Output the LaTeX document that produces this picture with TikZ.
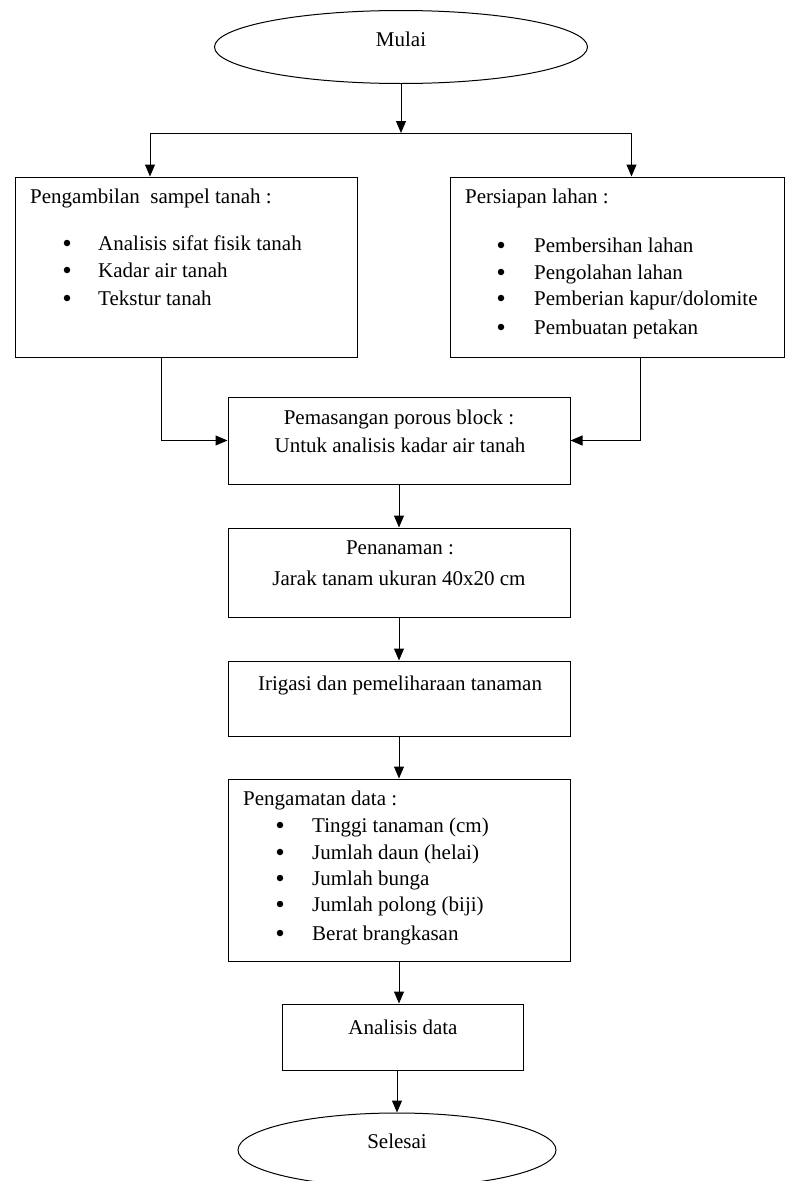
\documentclass[tikz,border=0pt]{standalone}
\usepackage{fontspec}
\setmainfont{Liberation Serif}
\usetikzlibrary{shapes.geometric}
\usetikzlibrary{arrows.meta}
\usetikzlibrary{positioning}

\begin{document}
\begin{tikzpicture}[x=1pt,y=-1pt,
  box/.style={draw,line width=1pt,rectangle,inner sep=0pt},
  oval/.style={draw,line width=1pt,ellipse,inner sep=0pt},
  txt/.style={font=\fontsize{21}{25}\selectfont,inner sep=0pt},
  dot/.style={circle,fill,inner sep=0pt,minimum size=6.5pt},
  arr/.style={line width=1pt,-{Triangle[length=12pt,width=10pt]}}]
\useasboundingbox (0,0) rectangle (786,1181);

\node[oval,minimum width=373pt,minimum height=73pt] (mulai) at (401,47) {};
\node[txt,anchor=base] (mulaitxt) at (401,46) {Mulai};
\coordinate (cabang) at (401,133);

\node[box,minimum width=342pt,minimum height=180pt] (ambil) at (186,267) {};
\node[box,minimum width=334pt,minimum height=180pt] (siap) at (617.5,267) {};
\node[box,minimum width=342pt,minimum height=87pt] (pasang) at (399,440.5) {};
\node[box,minimum width=342pt,minimum height=89pt] (tanam) at (399,572.5) {};
\node[box,minimum width=342pt,minimum height=75pt] (irigasi) at (399,698.5) {};
\node[box,minimum width=342pt,minimum height=182pt] (amati) at (399,870) {};
\node[box,minimum width=241pt,minimum height=66pt] (analisis) at (402.5,1037) {};
\node[oval,minimum width=318pt,minimum height=74pt] (selesai) at (397,1150) {};

\node[txt,anchor=base west] (ambilhead) at (30,203) {Pengambilan\ \ sampel tanah :};
\node[dot] (ambilb1) at (67,243) {};
\node[dot] (ambilb2) at (67,270) {};
\node[dot] (ambilb3) at (67,298) {};
\node[txt,anchor=base west] (ambil1) at (98,250) {Analisis sifat fisik tanah};
\node[txt,anchor=base west] (ambil2) at (98,277) {Kadar air tanah};
\node[txt,anchor=base west] (ambil3) at (98,305) {Tekstur tanah};

\node[txt,anchor=base west] (siaphead) at (465,203) {Persiapan lahan :};
\node[dot] (siapb1) at (501,245) {};
\node[dot] (siapb2) at (501,272) {};
\node[dot] (siapb3) at (501,298) {};
\node[dot] (siapb4) at (501,327) {};
\node[txt,anchor=base west] (siap1) at (534,252) {Pembersihan lahan};
\node[txt,anchor=base west] (siap2) at (534,279) {Pengolahan lahan};
\node[txt,anchor=base west] (siap3) at (534,305) {Pemberian kapur/dolomite};
\node[txt,anchor=base west] (siap4) at (534,334) {Pembuatan petakan};

\node[txt,anchor=base] (pasang1) at (399,424) {Pemasangan porous block :};
\node[txt,anchor=base] (pasang2) at (400,452) {Untuk analisis kadar air tanah};
\node[txt,anchor=base] (tanam1) at (400,554) {Penanaman :};
\node[txt,anchor=base] (tanam2) at (399,585) {Jarak tanam ukuran 40x20 cm};
\node[txt,anchor=base] (irigasi1) at (400,690) {Irigasi dan pemeliharaan tanaman};

\node[txt,anchor=base west] (amatihead) at (243,805) {Pengamatan data :};
\node[dot] (amatib1) at (280,825) {};
\node[dot] (amatib2) at (280,852) {};
\node[dot] (amatib3) at (280,878) {};
\node[dot] (amatib4) at (280,904) {};
\node[dot] (amatib5) at (280,933) {};
\node[txt,anchor=base west] (amati1) at (312,832) {Tinggi tanaman (cm)};
\node[txt,anchor=base west] (amati2) at (312,859) {Jumlah daun (helai)};
\node[txt,anchor=base west] (amati3) at (312,885) {Jumlah bunga};
\node[txt,anchor=base west] (amati4) at (312,911) {Jumlah polong (biji)};
\node[txt,anchor=base west] (amati5) at (312,940) {Berat brangkasan};

\node[txt,anchor=base] (analisis1) at (403,1034) {Analisis data};
\node[txt,anchor=base] (selesai1) at (397,1148) {Selesai};

% connectors
\coordinate (ambilin) at ([xshift=-36pt]ambil.north);
\coordinate (siapin) at ([xshift=14pt]siap.north);
\coordinate (ambilout) at ([xshift=-25pt]ambil.south);
\coordinate (siapout) at ([xshift=23pt]siap.south);
\draw[arr] (mulai.south) -- (cabang);
\draw[arr] (cabang) -| (ambilin);
\draw[arr] (cabang) -| (siapin);
\draw[arr] (ambilout) |- (pasang.west);
\draw[arr] (siapout) |- (pasang.east);
\draw[arr] (pasang) -- (tanam);
\draw[arr] (tanam) -- (irigasi);
\draw[arr] (irigasi) -- (amati);
\draw[arr] (amati.south) -- (amati.south |- analisis.north);
\draw[arr] (selesai.north |- analisis.south) -- (selesai.north);

\end{tikzpicture}
\end{document}
